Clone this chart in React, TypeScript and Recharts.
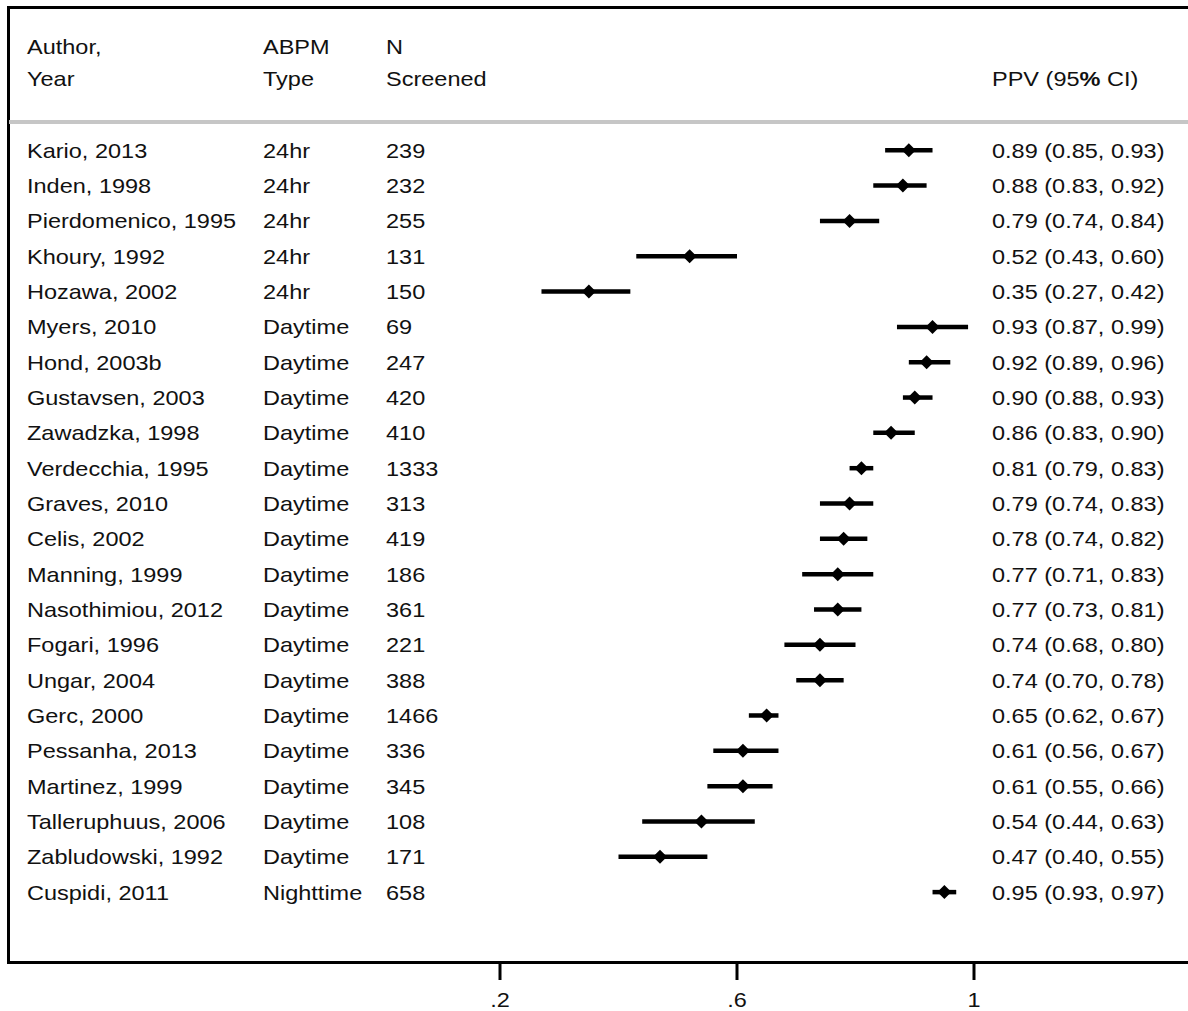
import { ErrorBar, Scatter, ScatterChart, XAxis, YAxis } from 'recharts';

const authors = [
  'Kario, 2013', 'Inden, 1998', 'Pierdomenico, 1995', 'Khoury, 1992', 'Hozawa, 2002',
  'Myers, 2010', 'Hond, 2003b', 'Gustavsen, 2003', 'Zawadzka, 1998', 'Verdecchia, 1995',
  'Graves, 2010', 'Celis, 2002', 'Manning, 1999', 'Nasothimiou, 2012', 'Fogari, 1996',
  'Ungar, 2004', 'Gerc, 2000', 'Pessanha, 2013', 'Martinez, 1999', 'Talleruphuus, 2006',
  'Zabludowski, 1992', 'Cuspidi, 2011',
];
const abpmTypes = [
  '24hr', '24hr', '24hr', '24hr', '24hr',
  'Daytime', 'Daytime', 'Daytime', 'Daytime', 'Daytime', 'Daytime', 'Daytime', 'Daytime',
  'Daytime', 'Daytime', 'Daytime', 'Daytime', 'Daytime', 'Daytime', 'Daytime', 'Daytime',
  'Nighttime',
];
const nScreened = [239, 232, 255, 131, 150, 69, 247, 420, 410, 1333, 313, 419, 186, 361, 221, 388, 1466, 336, 345, 108, 171, 658];
const ppv = [0.89, 0.88, 0.79, 0.52, 0.35, 0.93, 0.92, 0.9, 0.86, 0.81, 0.79, 0.78, 0.77, 0.77, 0.74, 0.74, 0.65, 0.61, 0.61, 0.54, 0.47, 0.95];
const ciLower = [0.85, 0.83, 0.74, 0.43, 0.27, 0.87, 0.89, 0.88, 0.83, 0.79, 0.74, 0.74, 0.71, 0.73, 0.68, 0.7, 0.62, 0.56, 0.55, 0.44, 0.4, 0.93];
const ciUpper = [0.93, 0.92, 0.84, 0.6, 0.42, 0.99, 0.96, 0.93, 0.9, 0.83, 0.83, 0.82, 0.83, 0.81, 0.8, 0.78, 0.67, 0.67, 0.66, 0.63, 0.55, 0.97];
const xTicks = [0.2, 0.6, 1];
const xTickLabels = ['.2', '.6', '1'];

const FONT = '"Liberation Sans", Arial, sans-serif';
const FS = 21;
const SX = 1.12;

const rows = ppv.map((v, i) => ({
  row: i,
  ppv: v,
  err: [+(v - ciLower[i]).toFixed(2), +(ciUpper[i] - v).toFixed(2)],
}));

const fmt = (v: number) => v.toFixed(2);

function Txt({ x, y, children, anchor = 'start' }: { x: number; y: number; children: any; anchor?: string }) {
  return (
    <g transform={`translate(${x} ${y}) scale(${SX} 1)`}>
      <text x={0} y={0} dy="0.36em" fontSize={FS} fontFamily={FONT} fill="#111" textAnchor={anchor}>
        {children}
      </text>
    </g>
  );
}

function RowTick(props: any) {
  const { y, payload } = props;
  const i = payload.value as number;
  if (i < 0 || i >= authors.length) return null;
  return (
    <g>
      <Txt x={27} y={y}>{authors[i]}</Txt>
      <Txt x={263} y={y}>{abpmTypes[i]}</Txt>
      <Txt x={386} y={y}>{nScreened[i]}</Txt>
      <Txt x={992} y={y}>{`${fmt(ppv[i])} (${fmt(ciLower[i])}, ${fmt(ciUpper[i])})`}</Txt>
    </g>
  );
}

function AxisTick(props: any) {
  const { x, payload } = props;
  const idx = xTicks.indexOf(payload.value);
  return <Txt x={x} y={999} anchor="middle">{xTickLabels[idx] ?? String(payload.value)}</Txt>;
}

function Diamond(props: any) {
  const { cx, cy } = props;
  const r = 7;
  return <polygon points={`${cx - r},${cy} ${cx},${cy - r} ${cx + r},${cy} ${cx},${cy + r}`} fill="#000" />;
}

export default function App() {
  return (
    <div style={{ position: 'absolute', left: 0, top: 0, width: 1188, height: 1011, background: '#fff' }}>
      {/* frame */}
      <div
        style={{
          position: 'absolute', left: 7, top: 6, width: 1188, height: 952,
          borderLeft: '3px solid #000', borderTop: '3px solid #000', borderBottom: '3px solid #000',
        }}
      />
      <div style={{ position: 'absolute', left: 9, top: 120, width: 1188, height: 4, background: '#c6c6c6' }} />
      <svg width={1188} height={110} style={{ position: 'absolute', left: 0, top: 0 }}>
        <Txt x={27} y={46}>Author,</Txt>
        <Txt x={27} y={78}>Year</Txt>
        <Txt x={263} y={46}>ABPM</Txt>
        <Txt x={263} y={78}>Type</Txt>
        <Txt x={386} y={46}>N</Txt>
        <Txt x={386} y={78}>Screened</Txt>
        <Txt x={992} y={78}>
          PPV (95<tspan fontWeight="bold">%</tspan> CI)
        </Txt>
      </svg>
      <div style={{ position: 'absolute', left: 0, top: 0 }}>
        <ScatterChart width={1188} height={1011} margin={{ top: 122, right: 95.5, bottom: 0, left: 0 }}>
          <XAxis
            type="number"
            dataKey="ppv"
            domain={[0, 1.2]}
            ticks={xTicks}
            allowDataOverflow
            height={50}
            axisLine={false}
            tickSize={19}
            tickLine={{ stroke: '#000', strokeWidth: 3 }}
            tick={<AxisTick />}
          />
          <YAxis
            type="number"
            dataKey="row"
            domain={[-0.8, 22.95]}
            reversed
            allowDataOverflow
            ticks={rows.map((r) => r.row)}
            interval={0}
            width={381.5}
            axisLine={false}
            tickLine={false}
            tick={<RowTick />}
          />
          <Scatter data={rows} shape={<Diamond />} fill="#000" isAnimationActive={false}>
            <ErrorBar dataKey="err" direction="x" width={0} stroke="#000" strokeWidth={4.5} isAnimationActive={false} />
          </Scatter>
        </ScatterChart>
      </div>
    </div>
  );
}
